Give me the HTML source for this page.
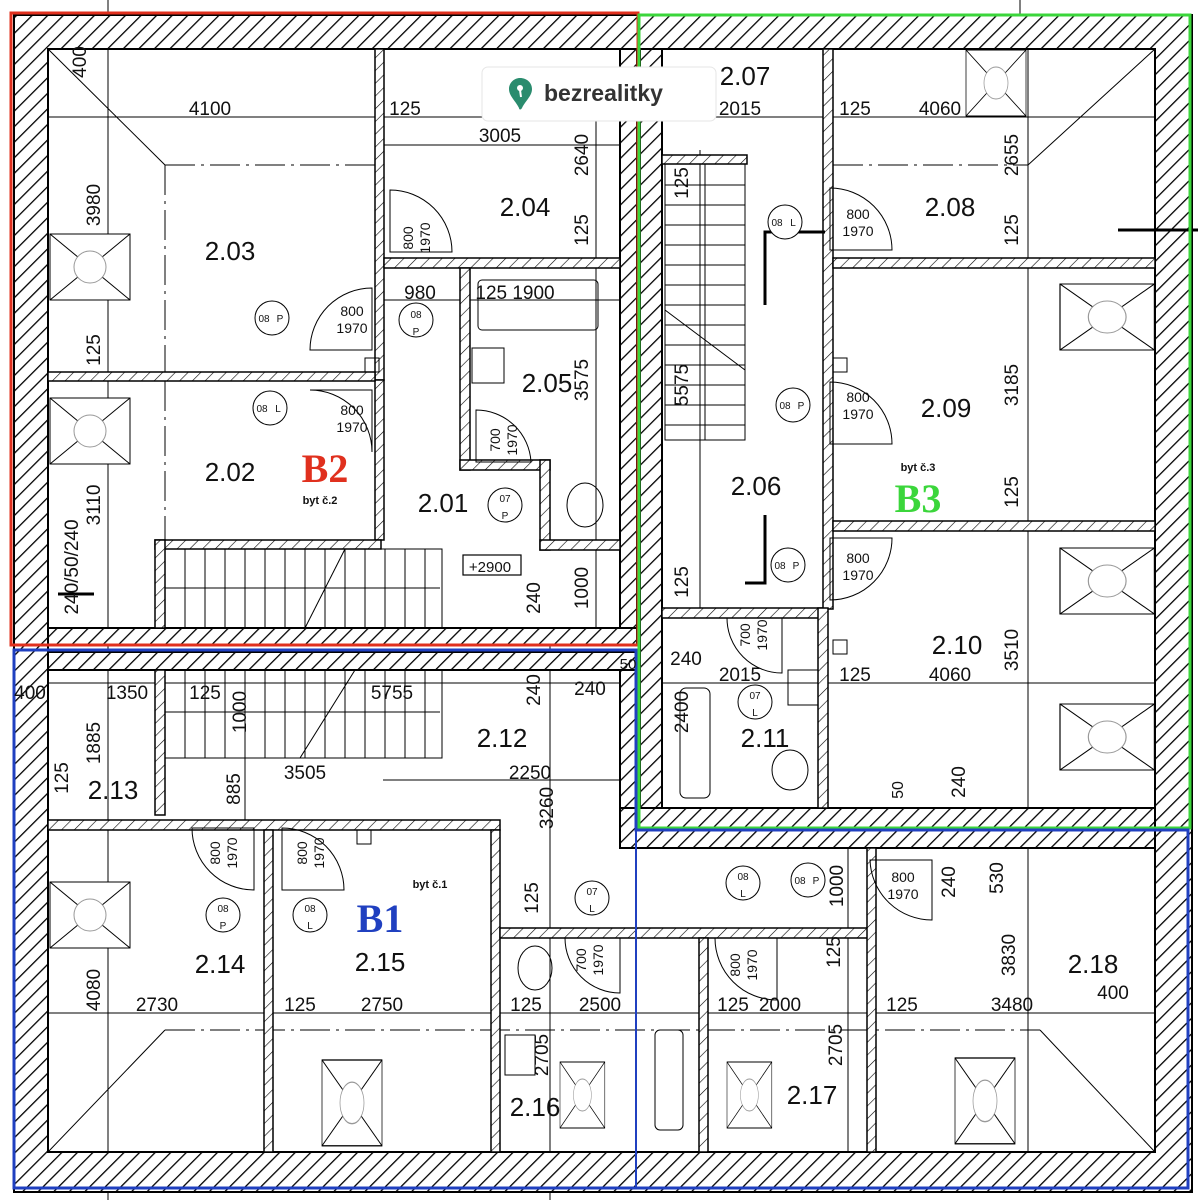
<!DOCTYPE html>
<html><head><meta charset="utf-8"><style>
html,body{margin:0;padding:0;background:#fff}
svg{display:block}
text{font-family:"Liberation Sans",sans-serif;fill:#111}
.d{font-size:19px}
.r{font-size:26px}
.s{font-size:13px}
.g{font-size:10px;fill:#3c3}
</style></head><body>
<svg width="1198" height="1200" viewBox="0 0 1198 1200" xmlns="http://www.w3.org/2000/svg">
<defs>
<pattern id="h" width="11" height="11" patternUnits="userSpaceOnUse" patternTransform="rotate(45)">
<rect width="11" height="11" fill="#fff"/><line x1="0" y1="0" x2="0" y2="11" stroke="#000" stroke-width="2.6"/>
</pattern>
<pattern id="h2" width="9" height="9" patternUnits="userSpaceOnUse" patternTransform="rotate(45)">
<rect width="9" height="9" fill="#fff"/><line x1="0" y1="0" x2="0" y2="9" stroke="#000" stroke-width="1.2"/>
</pattern>
<g id="sky"><rect x="0" y="0" width="80" height="66" fill="#fff" stroke="#000" stroke-width="1"/><line x1="0" y1="0" x2="80" y2="66" stroke="#000"/><line x1="80" y1="0" x2="0" y2="66" stroke="#000"/><circle cx="40" cy="33" r="16" fill="#fff" stroke="#999"/></g>
</defs>

<!-- dimension / grid lines -->
<g stroke="#000" stroke-width="1" fill="none">
<line x1="108" y1="0" x2="108" y2="1200"/>
<line x1="48" y1="117" x2="1155" y2="117"/>
<line x1="383" y1="145" x2="620" y2="145"/>
<line x1="383" y1="300" x2="620" y2="300"/>
<line x1="48" y1="683" x2="1155" y2="683"/>
<line x1="383" y1="780" x2="620" y2="780"/>
<line x1="48" y1="1013" x2="1155" y2="1013"/>
<line x1="596" y1="110" x2="596" y2="628"/>
<line x1="1028" y1="49" x2="1028" y2="808"/>
<line x1="550" y1="628" x2="550" y2="1200"/>
<line x1="700" y1="150" x2="700" y2="610"/>
<line x1="848" y1="848" x2="848" y2="1152"/>
<line x1="1028" y1="848" x2="1028" y2="1152"/>
<line x1="245" y1="670" x2="245" y2="830"/>
<line x1="1020" y1="0" x2="1020" y2="15"/>
<line x1="108" y1="828" x2="108" y2="1152"/>
</g>
<!-- hip lines -->
<g stroke="#000" stroke-width="1" fill="none">
<line x1="48" y1="49" x2="165" y2="165"/><line x1="165" y1="165" x2="375" y2="165" stroke-dasharray="30 6 3 6"/><line x1="165" y1="165" x2="165" y2="372" stroke-dasharray="30 6 3 6"/>
<line x1="165" y1="381" x2="165" y2="540" stroke-dasharray="30 6 3 6"/>
<line x1="1155" y1="49" x2="1028" y2="165"/><line x1="833" y1="165" x2="1028" y2="165" stroke-dasharray="30 6 3 6"/>
<line x1="48" y1="1152" x2="165" y2="1030"/><line x1="165" y1="1030" x2="1040" y2="1030" stroke-dasharray="30 6 3 6"/><line x1="1155" y1="1152" x2="1040" y2="1030"/>
<line x1="1155" y1="815" x2="1040" y2="848"/>
</g>

<!-- outer walls -->
<path d="M14 15H1192V1192H14Z M48 49V1152H1155V49Z" fill="url(#h)" fill-rule="evenodd" stroke="#000" stroke-width="2"/>
<g fill="url(#h)" stroke="#000" stroke-width="2">
<rect x="620" y="49" width="17" height="596"/>
<rect x="640" y="49" width="22" height="760"/>
<rect x="620" y="652" width="17" height="196"/>
<rect x="620" y="808" width="535" height="40"/>
<rect x="48" y="628" width="589" height="17"/>
<rect x="48" y="652" width="589" height="18"/>
</g>
<g fill="url(#h2)" stroke="#000" stroke-width="1.5">
<rect x="375" y="49" width="9" height="331"/>
<rect x="375" y="380" width="9" height="160"/>
<rect x="48" y="372" width="327" height="9"/>
<rect x="384" y="258" width="236" height="10"/>
<rect x="460" y="268" width="10" height="202"/>
<rect x="460" y="460" width="90" height="10"/>
<rect x="540" y="460" width="10" height="90"/>
<rect x="540" y="540" width="80" height="10"/>
<rect x="155" y="540" width="226" height="9"/>
<rect x="155" y="540" width="10" height="88"/>
<rect x="823" y="49" width="10" height="560"/>
<rect x="833" y="258" width="322" height="10"/>
<rect x="833" y="521" width="322" height="10"/>
<rect x="662" y="155" width="85" height="9"/>
<rect x="662" y="608" width="160" height="10"/>
<rect x="818" y="608" width="10" height="200"/>
<rect x="48" y="820" width="452" height="10"/>
<rect x="264" y="830" width="9" height="322"/>
<rect x="491" y="830" width="9" height="322"/>
<rect x="500" y="928" width="368" height="10"/>
<rect x="699" y="938" width="9" height="214"/>
<rect x="867" y="848" width="9" height="304"/>
<rect x="155" y="670" width="10" height="145"/>
</g>
<!-- stairs -->
<g stroke="#000" stroke-width="1" fill="none">
<rect x="165" y="549" width="277" height="79"/>
<path d="M185 549V628M205 549V628M225 549V628M245 549V628M265 549V628M285 549V628M305 549V628M325 549V628M345 549V628M365 549V628M385 549V628M405 549V628M425 549V628"/>
<line x1="165" y1="588" x2="440" y2="588"/><line x1="345" y1="549" x2="305" y2="628"/>
<rect x="165" y="670" width="277" height="88"/>
<path d="M185 670V758M205 670V758M225 670V758M245 670V758M265 670V758M285 670V758M305 670V758M325 670V758M345 670V758M365 670V758M385 670V758M405 670V758M425 670V758"/>
<line x1="165" y1="712" x2="440" y2="712"/><line x1="355" y1="670" x2="300" y2="758"/>
<rect x="665" y="164" width="80" height="276"/>
<path d="M665 185H745M665 205H745M665 225H745M665 245H745M665 265H745M665 285H745M665 305H745M665 325H745M665 345H745M665 365H745M665 385H745M665 405H745M665 425H745"/>
<line x1="705" y1="164" x2="705" y2="440"/><line x1="665" y1="310" x2="745" y2="370"/>
<!-- fixtures -->
<rect x="478" y="280" width="120" height="50" rx="4"/>
<rect x="472" y="348" width="32" height="35"/>
<ellipse cx="585" cy="505" rx="18" ry="22"/>
<rect x="680" y="688" width="30" height="110" rx="6"/>
<rect x="788" y="670" width="30" height="35"/>
<ellipse cx="790" cy="770" rx="18" ry="20"/>
<ellipse cx="535" cy="968" rx="17" ry="22"/>
<rect x="505" y="1035" width="30" height="40"/>
<rect x="655" y="1030" width="28" height="100" rx="5"/>
<rect x="463" y="555" width="58" height="20" stroke-width="1.2"/>
<!-- doors -->
<path d="M310 350 A62 62 0 0 1 372 288 V350Z"/>
<path d="M310 390 A62 62 0 0 1 372 452 V390Z"/>
<path d="M390 190 A62 62 0 0 1 452 252 H390Z"/>
<path d="M830 188 A62 62 0 0 1 892 250 H830Z"/>
<path d="M830 382 A62 62 0 0 1 892 444 H830Z"/>
<path d="M830 600 A62 62 0 0 0 892 538 H830Z"/>
<path d="M476 410 A55 55 0 0 1 531 462 H476Z"/>
<path d="M727 618 A55 55 0 0 0 782 673 V618Z"/>
<path d="M192 828 A62 62 0 0 0 254 890 V828Z"/>
<path d="M282 828 A62 62 0 0 1 344 890 H282Z"/>
<path d="M565 938 A55 55 0 0 0 620 993 V938Z"/>
<path d="M715 938 A62 62 0 0 0 777 1000 V938Z"/>
<path d="M870 860 A62 62 0 0 0 932 920 V860Z"/>
<path d="M365 358h14v14h-14z M833 358h14v14h-14z M833 640h14v14h-14z M357 830h14v14h-14z"/>
</g>
<g stroke="#000" stroke-width="3" fill="none">
<path d="M765 305V232H825"/><path d="M765 515V583H745"/>
<line x1="58" y1="594" x2="94" y2="594"/><line x1="1118" y1="230" x2="1198" y2="230"/>
</g>
<!-- skylights -->
<use href="#sky" transform="translate(50,234)"/>
<use href="#sky" transform="translate(50,398)"/>
<use href="#sky" transform="translate(966,50) scale(0.75,1)"/>
<use href="#sky" transform="translate(1060,284) scale(1.18,1)"/>
<use href="#sky" transform="translate(1060,548) scale(1.18,1)"/>
<use href="#sky" transform="translate(1060,704) scale(1.18,1)"/>
<use href="#sky" transform="translate(50,882)"/>
<use href="#sky" transform="translate(322,1060) scale(0.75,1.3)"/>
<use href="#sky" transform="translate(560,1062) scale(0.56,1)"/>
<use href="#sky" transform="translate(727,1062) scale(0.56,1)"/>
<use href="#sky" transform="translate(955,1058) scale(0.75,1.3)"/>
<!-- door tags -->
<g stroke="#000" stroke-width="1" fill="#fff">
<circle cx="272" cy="318" r="17"/><circle cx="416" cy="320" r="17"/><circle cx="270" cy="408" r="17"/>
<circle cx="785" cy="222" r="17"/><circle cx="793" cy="405" r="17"/><circle cx="788" cy="565" r="17"/>
<circle cx="505" cy="505" r="17"/><circle cx="755" cy="702" r="17"/><circle cx="223" cy="915" r="17"/>
<circle cx="310" cy="915" r="17"/><circle cx="592" cy="898" r="17"/><circle cx="743" cy="883" r="17"/><circle cx="808" cy="880" r="17"/>
</g>
<g class="g" text-anchor="middle">
<text x="416" y="318">08</text><text x="416" y="335">P</text>
<text x="505" y="502">07</text><text x="505" y="519">P</text>
<text x="755" y="699">07</text><text x="755" y="716">L</text>
<text x="223" y="912">08</text><text x="223" y="929">P</text>
<text x="310" y="912">08</text><text x="310" y="929">L</text>
<text x="592" y="895">07</text><text x="592" y="912">L</text>
<text x="743" y="880">08</text><text x="743" y="897">L</text>
<text x="264" y="322">08</text><text x="280" y="322">P</text>
<text x="262" y="412">08</text><text x="278" y="412">L</text>
<text x="777" y="226">08</text><text x="793" y="226">L</text>
<text x="785" y="409">08</text><text x="801" y="409">P</text>
<text x="780" y="569">08</text><text x="796" y="569">P</text>
<text x="800" y="884">08</text><text x="816" y="884">P</text>
</g>

<!-- colored outlines -->
<rect x="11" y="13" width="627" height="632" fill="none" stroke="#e0301e" stroke-width="3"/>
<path d="M639 15H1190V828H639Z" fill="none" stroke="#3bd63b" stroke-width="3"/>
<path d="M14 650H636V830H1188V1188H14Z" fill="none" stroke="#2040c0" stroke-width="3"/>
<line x1="636" y1="830" x2="636" y2="1188" stroke="#2040c0" stroke-width="2"/>

<!-- room labels -->
<g class="r" text-anchor="middle">
<text x="230" y="260">2.03</text><text x="525" y="216">2.04</text><text x="745" y="85">2.07</text>
<text x="950" y="216">2.08</text><text x="547" y="392">2.05</text><text x="946" y="417">2.09</text>
<text x="230" y="481">2.02</text><text x="443" y="512">2.01</text><text x="756" y="495">2.06</text>
<text x="957" y="654">2.10</text><text x="502" y="747">2.12</text><text x="765" y="747">2.11</text>
<text x="113" y="799">2.13</text><text x="220" y="973">2.14</text><text x="380" y="971">2.15</text>
<text x="1093" y="973">2.18</text><text x="535" y="1116">2.16</text><text x="812" y="1104">2.17</text>
</g>
<g font-family="Liberation Serif,serif" font-weight="bold" font-size="40" text-anchor="middle">
<text x="325" y="482" style="fill:#e0301e;font-family:'Liberation Serif',serif">B2</text>
<text x="918" y="512" style="fill:#3bd63b;font-family:'Liberation Serif',serif">B3</text>
<text x="380" y="932" style="fill:#2040c0;font-family:'Liberation Serif',serif">B1</text>
</g>
<g class="s" font-weight="bold" text-anchor="middle" style="font-size:11px">
<text x="320" y="504">byt č.2</text><text x="918" y="471">byt č.3</text><text x="430" y="888">byt č.1</text>
</g>
<!-- dimension labels -->
<g class="d" text-anchor="middle">
<text x="210" y="115">4100</text><text x="405" y="115">125</text><text x="500" y="142">3005</text>
<text x="740" y="115">2015</text><text x="855" y="115">125</text><text x="940" y="115">4060</text>
<text x="420" y="299">980</text><text x="515" y="299">125 1900</text>
<text x="686" y="665">240</text><text x="740" y="681">2015</text><text x="855" y="681">125</text><text x="950" y="681">4060</text>
<text x="590" y="695">240</text><text x="628" y="669" style="font-size:15px">50</text>
<text x="30" y="699">400</text><text x="127" y="699">1350</text><text x="205" y="699">125</text><text x="392" y="699">5755</text>
<text x="305" y="779">3505</text><text x="530" y="779">2250</text>
<text x="157" y="1011">2730</text><text x="300" y="1011">125</text><text x="382" y="1011">2750</text>
<text x="526" y="1011">125</text><text x="600" y="1011">2500</text><text x="733" y="1011">125</text>
<text x="780" y="1011">2000</text><text x="902" y="1011">125</text><text x="1012" y="1011">3480</text><text x="1113" y="999">400</text>
<text transform="translate(86,62) rotate(-90)">400</text>
<text transform="translate(588,155) rotate(-90)">2640</text>
<text transform="translate(1018,155) rotate(-90)">2655</text>
<text transform="translate(100,205) rotate(-90)">3980</text>
<text transform="translate(588,230) rotate(-90)">125</text>
<text transform="translate(1018,230) rotate(-90)">125</text>
<text transform="translate(688,183) rotate(-90)">125</text>
<text transform="translate(100,350) rotate(-90)">125</text>
<text transform="translate(588,380) rotate(-90)">3575</text>
<text transform="translate(688,385) rotate(-90)">5575</text>
<text transform="translate(1018,385) rotate(-90)">3185</text>
<text transform="translate(1018,492) rotate(-90)">125</text>
<text transform="translate(100,505) rotate(-90)">3110</text>
<text transform="translate(78,567) rotate(-90)">240/50/240</text>
<text transform="translate(540,598) rotate(-90)">240</text>
<text transform="translate(588,588) rotate(-90)">1000</text>
<text transform="translate(688,582) rotate(-90)">125</text>
<text transform="translate(1018,650) rotate(-90)">3510</text>
<text transform="translate(540,690) rotate(-90)">240</text>
<text transform="translate(246,712) rotate(-90)">1000</text>
<text transform="translate(688,712) rotate(-90)">2400</text>
<text transform="translate(100,743) rotate(-90)">1885</text>
<text transform="translate(68,778) rotate(-90)">125</text>
<text transform="translate(240,789) rotate(-90)">885</text>
<text transform="translate(553,808) rotate(-90)">3260</text>
<text transform="translate(903,790) rotate(-90)" style="font-size:16px">50</text>
<text transform="translate(965,782) rotate(-90)">240</text>
<text transform="translate(955,882) rotate(-90)">240</text>
<text transform="translate(1003,878) rotate(-90)">530</text>
<text transform="translate(843,886) rotate(-90)">1000</text>
<text transform="translate(538,898) rotate(-90)">125</text>
<text transform="translate(840,952) rotate(-90)">125</text>
<text transform="translate(1015,955) rotate(-90)">3830</text>
<text transform="translate(100,990) rotate(-90)">4080</text>
<text transform="translate(548,1055) rotate(-90)">2705</text>
<text transform="translate(842,1045) rotate(-90)">2705</text>
</g>
<g class="s" text-anchor="middle" style="font-size:14px">
<text x="352" y="316">800</text><text x="352" y="333">1970</text>
<text x="352" y="415">800</text><text x="352" y="432">1970</text>
<text x="858" y="219">800</text><text x="858" y="236">1970</text>
<text x="858" y="402">800</text><text x="858" y="419">1970</text>
<text x="858" y="563">800</text><text x="858" y="580">1970</text>
<text x="903" y="882">800</text><text x="903" y="899">1970</text>
<text transform="translate(413,238) rotate(-90)">800</text><text transform="translate(430,238) rotate(-90)">1970</text>
<text transform="translate(500,440) rotate(-90)">700</text><text transform="translate(517,440) rotate(-90)">1970</text>
<text transform="translate(750,635) rotate(-90)">700</text><text transform="translate(767,635) rotate(-90)">1970</text>
<text transform="translate(220,853) rotate(-90)">800</text><text transform="translate(237,853) rotate(-90)">1970</text>
<text transform="translate(307,853) rotate(-90)">800</text><text transform="translate(324,853) rotate(-90)">1970</text>
<text transform="translate(586,960) rotate(-90)">700</text><text transform="translate(603,960) rotate(-90)">1970</text>
<text transform="translate(740,965) rotate(-90)">800</text><text transform="translate(757,965) rotate(-90)">1970</text>
<text x="490" y="572" style="font-size:15px">+2900</text>
</g>

<!-- logo -->
<rect x="482" y="67" width="234" height="54" rx="6" fill="#fff" stroke="#e6e6e6"/>
<path d="M520 78c7 0 12 5 12 11c0 7-6 11-10 19c-1 2-3 2-3 0c-4-8-10-12-10-19c0-6 5-11 11-11z" fill="#2a8c6e"/>
<circle cx="520" cy="88" r="3" fill="#fff"/><line x1="520" y1="90" x2="521" y2="97" stroke="#fff" stroke-width="2"/>
<text x="544" y="101" style="font-size:23px;font-weight:bold;fill:#333">bezrealitky</text>
</svg>
</body></html>
